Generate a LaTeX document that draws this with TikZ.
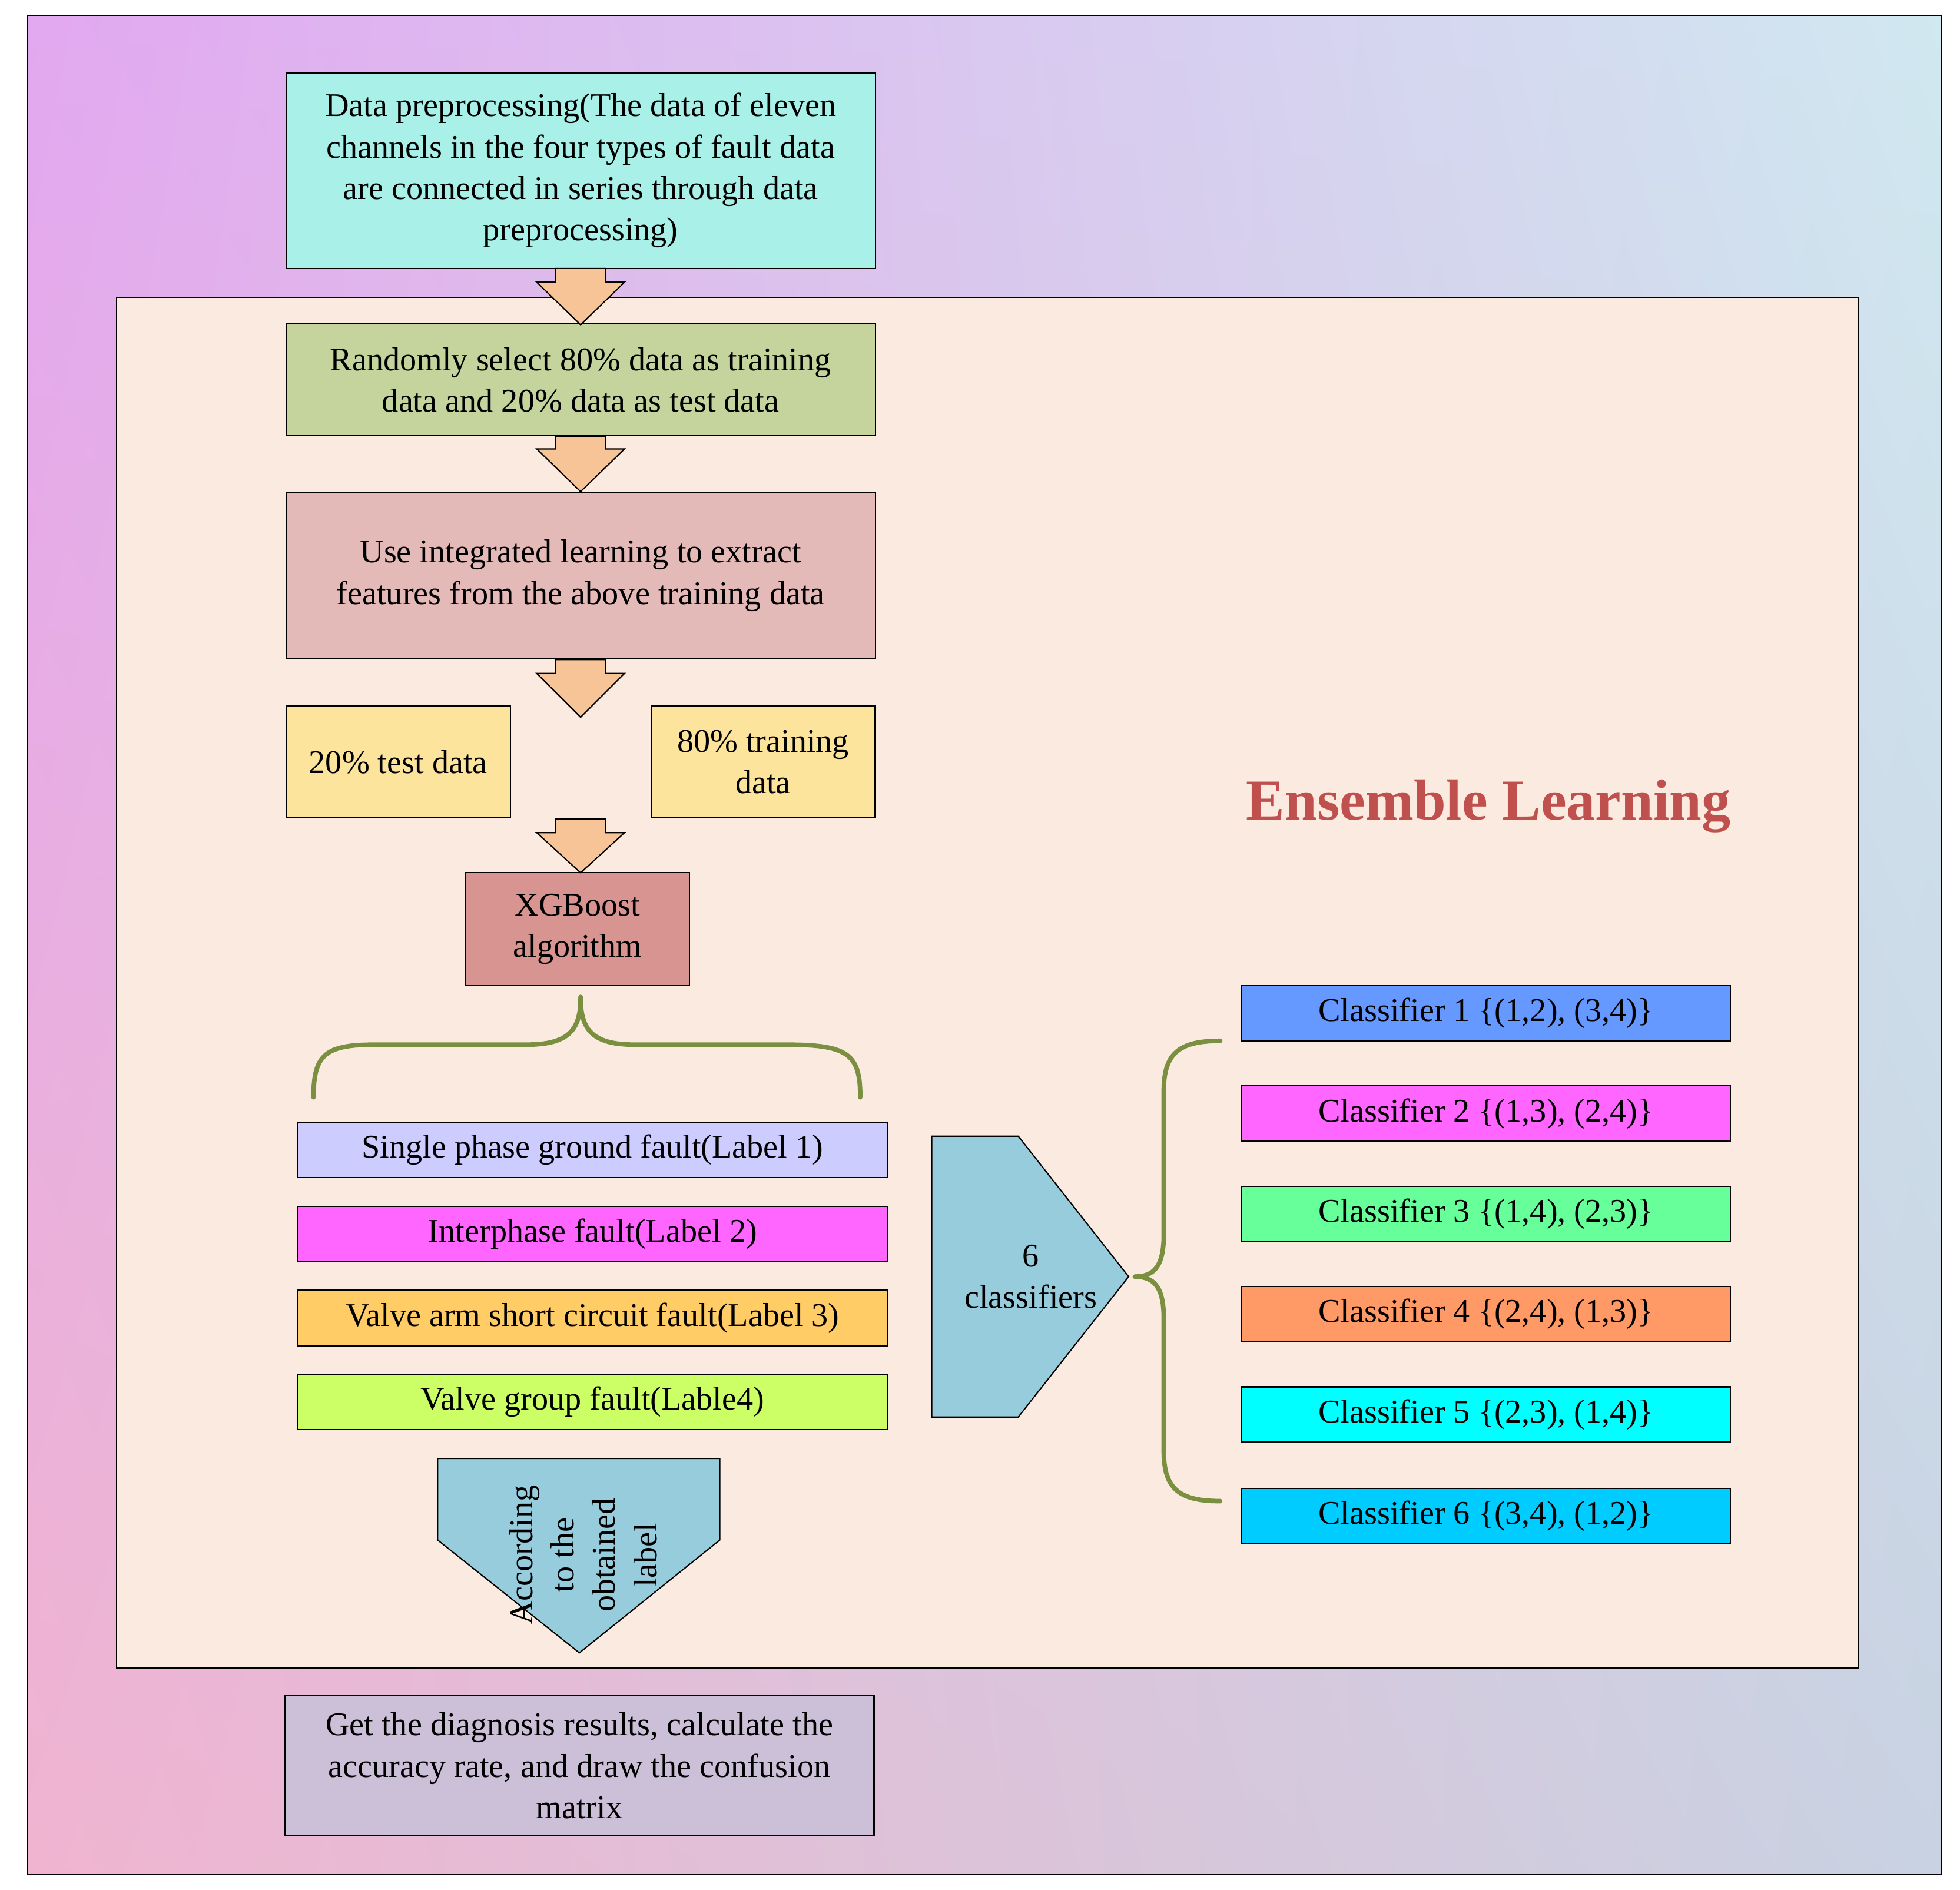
\documentclass[tikz,border=0pt]{standalone}
\usepackage{fontspec}
\setmainfont{Liberation Serif}
\usetikzlibrary{shapes.geometric,shadings}
\definecolor{olv}{HTML}{7A9040}
\definecolor{arr}{HTML}{F7C498}
\definecolor{gul}{RGB}{226,168,240}
\definecolor{gur}{RGB}{208,232,240}
\definecolor{gll}{RGB}{240,180,208}
\definecolor{glr}{RGB}{200,210,226}
\definecolor{inb}{RGB}{251,234,223}
\definecolor{pent}{RGB}{150,204,220}
\definecolor{ens}{RGB}{192,80,77}
\definecolor{c1}{HTML}{A8F0E8}\definecolor{c2}{HTML}{C4D49C}\definecolor{c3}{HTML}{E4BAB8}
\definecolor{c4}{HTML}{FDE49C}\definecolor{c5}{HTML}{D89490}\definecolor{c6}{HTML}{CCC0D8}
\definecolor{k1}{HTML}{6699FF}\definecolor{k2}{HTML}{FF66FF}\definecolor{k3}{HTML}{66FF99}
\definecolor{k4}{HTML}{FF9966}\definecolor{k5}{HTML}{00FFFF}\definecolor{k6}{HTML}{00CCFF}
\begin{document}
\begin{tikzpicture}[x=0.0213cm,y=-0.0213cm,
 box/.style={draw,line width=0.6pt,align=center,inner sep=0pt,font=\fontsize{16}{20}\selectfont},
 brc/.style={draw=olv,line width=2.2pt,line cap=round}]
\useasboundingbox (0,0) rectangle (1563,1507);
\shade[upper left=gul,upper right=gur,lower left=gll,lower right=glr] (22,12) rectangle (1548,1495);
\draw[line width=0.6pt] (22,12) rectangle (1548,1495);
\draw[line width=0.6pt,fill=inb] (93,237) rectangle (1482,1330);
\node[box,fill=c1,minimum width=10.01cm,minimum height=3.32cm] (b1) at (463,136) {Data preprocessing(The data of eleven\\channels in the four types of fault data\\are connected in series through data\\preprocessing)};
\node[box,fill=c2,minimum width=10.01cm,minimum height=1.9cm] (b2) at (463,303) {Randomly select 80\% data as training\\data and 20\% data as test data};
\node[box,fill=c3,minimum width=10.01cm,minimum height=2.83cm] (b3) at (463,459) {Use integrated learning to extract\\features from the above training data};
\node[box,fill=c4,minimum width=3.81cm,minimum height=1.9cm] (t1) at (317.5,607.5) {20\% test data};
\node[box,fill=c4,minimum width=3.81cm,minimum height=1.9cm] (t2) at (608.5,607.5) {80\% training\\data};
\node[box,fill=c5,minimum width=3.81cm,minimum height=1.92cm] (xg) at (460.5,741) {XGBoost\\algorithm};
\node[box,fill=c6,minimum width=10.01cm,minimum height=2.39cm] (fin) at (462,1408) {Get the diagnosis results, calculate the\\accuracy rate, and draw the confusion\\matrix};
\newcommand{\farr}[3]{\draw[line width=0.6pt,fill=arr] (443,#1)--(483,#1)--(483,#2)--(498,#2)--(463,#3)--(428,#2)--(443,#2)--cycle;}
\farr{214}{225}{259}
\farr{348}{358}{392}
\farr{526}{537}{572}
\farr{653}{664}{696}
\draw[brc] (250,875) .. controls (250,840) and (260,833) .. (300,833) -- (420,833) .. controls (455,833) and (463,820) .. (463,795);
\draw[brc] (686,875) .. controls (686,840) and (676,833) .. (626,833) -- (506,833) .. controls (471,833) and (463,820) .. (463,795);
\node[box,fill={rgb,255:red,204;green,204;blue,255},minimum width=10.03cm,minimum height=0.94cm] (f1) at (472.5,917) {Single phase ground fault(Label 1)};
\node[box,fill={rgb,255:red,255;green,102;blue,255},minimum width=10.03cm,minimum height=0.94cm] (f2) at (472.5,984) {Interphase fault(Label 2)};
\node[box,fill={rgb,255:red,255;green,204;blue,102},minimum width=10.03cm,minimum height=0.94cm] (f3) at (472.5,1051) {Valve arm short circuit fault(Label 3)};
\node[box,fill={rgb,255:red,204;green,255;blue,102},minimum width=10.03cm,minimum height=0.94cm] (f4) at (472.5,1118) {Valve group fault(Lable4)};
\draw[line width=0.6pt,fill=pent] (743,906)--(812,906)--(900,1018)--(812,1130)--(743,1130)--cycle;
\node[align=center,font=\fontsize{16}{20}\selectfont] (six) at (822,1018) {6\\classifiers};
\draw[line width=0.6pt,fill=pent] (349,1163)--(574,1163)--(574,1228)--(462,1318)--(349,1228)--cycle;
\node[align=center,rotate=90,font=\fontsize{16}{20}\selectfont] (acc) at (465,1240) {According\\to the\\obtained\\label};
\draw[brc] (973,830) .. controls (940,830) and (928,840) .. (928,870) -- (928,985) .. controls (928,1010) and (920,1018) .. (905,1018);
\draw[brc] (973,1197) .. controls (940,1197) and (928,1187) .. (928,1157) -- (928,1051) .. controls (928,1026) and (920,1018) .. (905,1018);
\node[box,fill=k1,minimum width=8.31cm,minimum height=0.94cm] (cl1) at (1185,808) {Classifier 1 \{(1,2), (3,4)\}};
\node[box,fill=k2,minimum width=8.31cm,minimum height=0.94cm] (cl2) at (1185,888) {Classifier 2 \{(1,3), (2,4)\}};
\node[box,fill=k3,minimum width=8.31cm,minimum height=0.94cm] (cl3) at (1185,968) {Classifier 3 \{(1,4), (2,3)\}};
\node[box,fill=k4,minimum width=8.31cm,minimum height=0.94cm] (cl4) at (1185,1048) {Classifier 4 \{(2,4), (1,3)\}};
\node[box,fill=k5,minimum width=8.31cm,minimum height=0.94cm] (cl5) at (1185,1128) {Classifier 5 \{(2,3), (1,4)\}};
\node[box,fill=k6,minimum width=8.31cm,minimum height=0.94cm] (cl6) at (1185,1209) {Classifier 6 \{(3,4), (1,2)\}};
\node[font=\fontsize{28}{32}\selectfont\bfseries,text=ens] (ensl) at (1187,643) {Ensemble Learning};
\end{tikzpicture}
\end{document}
